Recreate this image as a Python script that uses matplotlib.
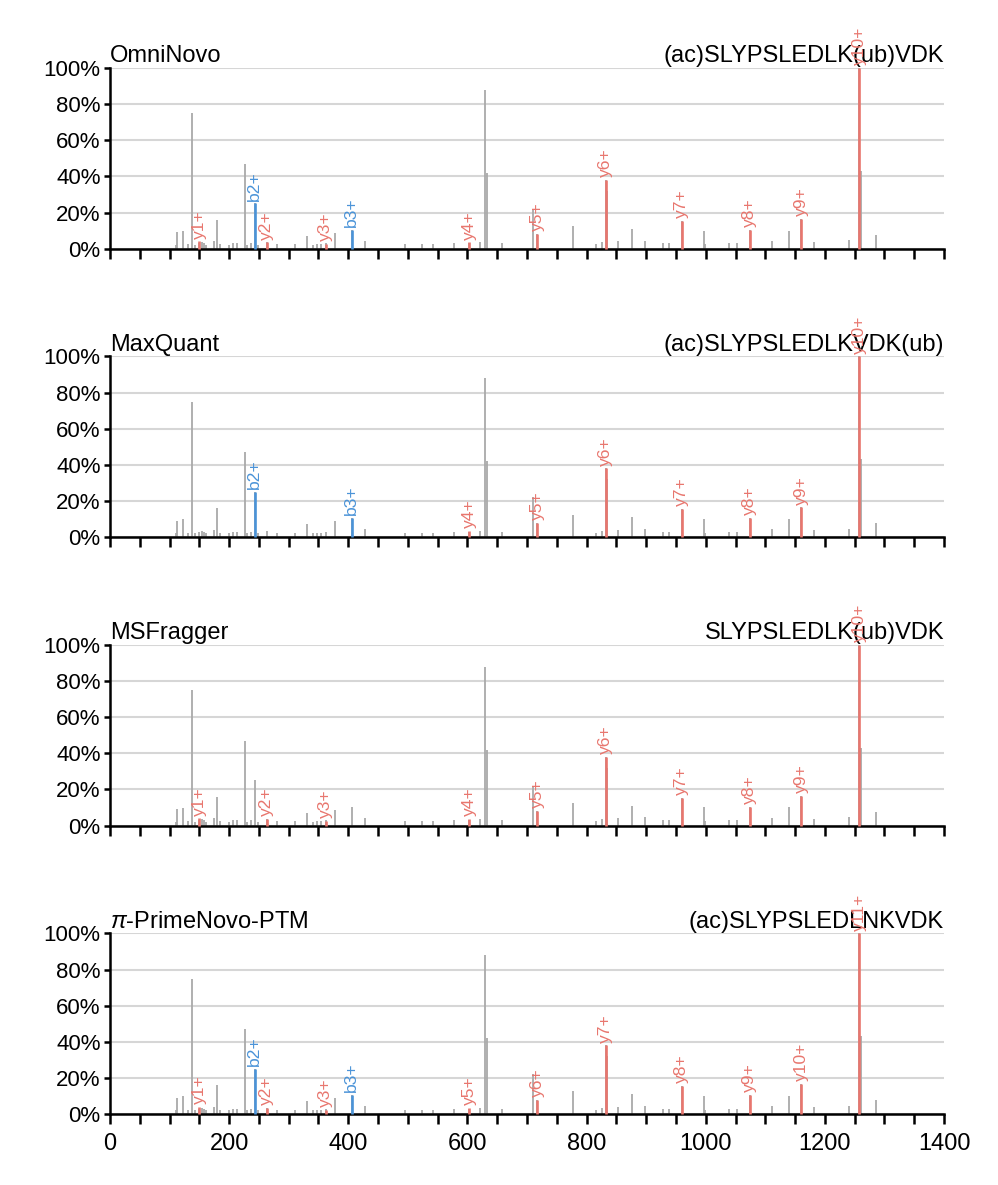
import matplotlib
matplotlib.use('Agg')
import matplotlib.pyplot as plt
from matplotlib.ticker import MultipleLocator, PercentFormatter

plt.rcParams['font.family'] = ['Liberation Sans', 'DejaVu Sans']
plt.rcParams['mathtext.fontset'] = 'custom'
plt.rcParams['mathtext.it'] = 'Liberation Sans:italic'
plt.rcParams['mathtext.rm'] = 'Liberation Sans'

# Data: the spectrum (m/z, relative intensity %)
peak_mz = [110, 113, 122, 131, 137.5, 142, 150, 154, 157, 161, 175, 179, 185,
           200, 207, 213, 226.5, 230, 236, 243, 249, 264, 281, 311, 330, 341,
           348, 355, 362, 378, 406, 428.6, 496, 524, 543, 577, 603, 621, 630,
           633, 658, 710.7, 717, 777, 815, 826, 832, 835, 852, 876, 898, 928,
           939, 960, 996.6, 998, 1039, 1052, 1074, 1112, 1140, 1160, 1181,
           1240, 1258, 1261, 1286]
peak_int = [2, 9, 9.8, 2.5, 75, 2, 3, 3.5, 3, 2, 4, 16, 2.5,
            2, 3, 3, 47, 2, 3, 25, 2, 3.5, 2.5, 2.5, 7, 2,
            2.5, 2.5, 3, 8.7, 10.5, 4.3, 2.4, 2.4, 2.4, 3, 3, 3.5, 88,
            42, 3, 22, 8, 12.5, 2.5, 3.5, 38, 32, 4, 11, 4.5, 3,
            3, 15.5, 10, 2.5, 3, 3, 10.5, 4.3, 10, 16.5, 3.7,
            4.7, 100, 43, 7.6]

# matched fragment ions
ion_mz = [150, 243, 263, 362, 406, 603, 717, 832, 960, 1074, 1160, 1258]
ion_int = [4, 25, 3.5, 2.5, 10.5, 3.5, 8, 38, 15.5, 10.5, 16.5, 100]

tools = ['OmniNovo', 'MaxQuant', 'MSFragger', '$\\pi$-PrimeNovo-PTM']
peptides = ['(ac)SLYPSLEDLK(ub)VDK', '(ac)SLYPSLEDLKVDK(ub)',
            'SLYPSLEDLK(ub)VDK', '(ac)SLYPSLEDLNKVDK']
ion_labels = [
    ['y1+', 'b2+', 'y2+', 'y3+', 'b3+', 'y4+', 'y5+', 'y6+', 'y7+', 'y8+', 'y9+', 'y10+'],
    ['', 'b2+', '', '', 'b3+', 'y4+', 'y5+', 'y6+', 'y7+', 'y8+', 'y9+', 'y10+'],
    ['y1+', '', 'y2+', 'y3+', '', 'y4+', 'y5+', 'y6+', 'y7+', 'y8+', 'y9+', 'y10+'],
    ['y1+', 'b2+', 'y2+', 'y3+', 'b3+', 'y5+', 'y6+', 'y7+', 'y8+', 'y9+', 'y10+', 'y11+'],
]

GRAY = '#a9a9a9'
RED = '#e8766e'
BLUE = '#4a93d8'

fig, axes = plt.subplots(4, 1, figsize=(4.99, 5.925), dpi=200, sharex=True)
fig.subplots_adjust(left=0.1102, right=0.9459, top=0.9426, bottom=0.0599, hspace=0.597)

for ax, tool, pep, labels in zip(axes, tools, peptides, ion_labels):
    ax.set_axisbelow(True)
    ax.grid(axis='y', color='#d6d6d6', lw=0.75)
    ax.vlines(peak_mz, 0, peak_int, color=GRAY, lw=0.65, zorder=2)
    for mz, inten, lab in zip(ion_mz, ion_int, labels):
        if not lab:
            continue
        c = BLUE if lab.startswith('b') else RED
        ax.vlines(mz, 0, inten, color=c, lw=0.95, zorder=3, clip_on=False)
        ax.annotate(lab, (mz, inten), xytext=(0, 1), textcoords='offset points',
                    rotation=90, ha='center', va='bottom', color=c,
                    fontsize=6.3, zorder=4, annotation_clip=False)
    ax.set_xlim(0, 1400)
    ax.set_ylim(0, 100)
    ax.yaxis.set_major_locator(MultipleLocator(20))
    ax.yaxis.set_major_formatter(PercentFormatter(xmax=100, decimals=0))
    ax.xaxis.set_major_locator(MultipleLocator(200))
    ax.xaxis.set_minor_locator(MultipleLocator(50))
    for s in ['top', 'right']:
        ax.spines[s].set_visible(False)
    for s in ['left', 'bottom']:
        ax.spines[s].set_linewidth(0.9)
    ax.tick_params(axis='x', which='both', length=3.5, width=0.9, labelsize=8.5)
    ax.tick_params(axis='y', length=2.2, width=0.9, labelsize=8, pad=1.2)
    ax.set_title(tool, loc='left', fontsize=8.5, pad=2)
    ax.set_title(pep, loc='right', fontsize=8.5, pad=2)

fig.savefig('out.png', dpi=200)
